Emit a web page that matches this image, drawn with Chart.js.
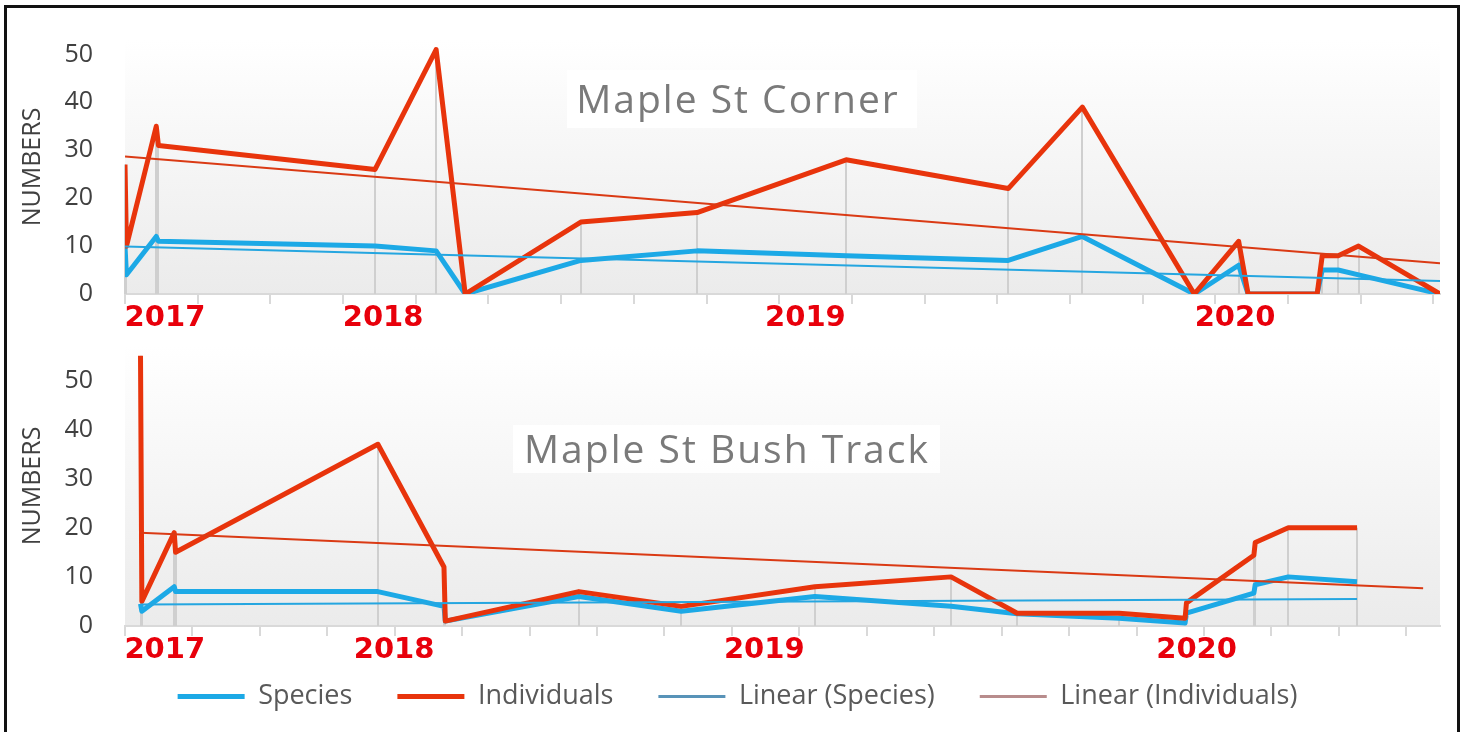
<!DOCTYPE html>
<html>
<head>
<meta charset="utf-8">
<script src="https://cdn.jsdelivr.net/npm/chart.js@4.4.1/dist/chart.umd.min.js"></script>
<style>
  html, body { margin: 0; padding: 0; background: #ffffff; width: 1466px; height: 732px; overflow: hidden; }
  #frame { position: absolute; left: 4px; top: 5px; width: 1450px; height: 800px; border: 3px solid #111111; }
  #c1 { position: absolute; left: 0; top: 0; }
  #c2 { position: absolute; left: 0; top: 325px; }
</style>
</head>
<body>
<div id="frame"></div>
<canvas id="c1" width="1466" height="335"></canvas>
<canvas id="c2" width="1466" height="395"></canvas>
<script>
// ---------- DATA (x = survey period on the time axis, one unit per axis tick) ----------
const seriesNames = ['Species', 'Individuals', 'Linear (Species)', 'Linear (Individuals)'];
const yearLabels = ['2017', '2018', '2019', '2020'];

// Maple St Corner
const cornerX = [0, 0.02, 0.43, 0.46, 3.44, 4.28, 4.68, 6.27, 7.87, 9.92, 12.15, 13.17, 14.71, 15.32, 15.45, 16.40, 16.47, 16.69, 16.97, 18.09];
const cornerSpecies = [10, 4, 12, 11, 10, 9, 0, 7, 9, 8, 7, 12, 0, 6, 0, 0, 5, 5, 4, 0];
const cornerIndividuals = [27, 10, 35, 31, 26, 51, 0, 15, 17, 28, 22, 39, 0, 11, 0, 0, 8, 8, 10, 0];
const cornerSpeciesTrendX = [0, 18.09];
const cornerSpeciesTrend = [9.9, 2.7];
const cornerIndividualsTrendX = [0, 18.09];
const cornerIndividualsTrend = [28.7, 6.4];
const cornerYearTicks = [0.55, 3.55, 9.36, 15.27];

// Maple St Bush Track
const bushX = [0.23, 0.25, 0.73, 0.75, 3.75, 4.73, 4.75, 6.73, 8.25, 10.23, 12.25, 13.23, 14.74, 15.72, 15.74, 16.74, 16.76, 17.25, 18.27];
const bushSpecies = [4.5, 3, 8, 7, 7, 4, 1, 6, 3, 6, 4, 2.5, 1.6, 0.6, 2.6, 6.7, 8.4, 10, 9];
const bushIndividuals = [55, 5, 19, 15, 37, 12, 1, 7, 4, 8, 10, 2.6, 2.6, 1.6, 4.7, 14.4, 17, 20, 20];
const bushSpeciesTrendX = [0.23, 18.27];
const bushSpeciesTrend = [4.4, 5.5];
const bushIndividualsTrendX = [0.23, 19.25];
const bushIndividualsTrend = [19, 7.7];
const bushYearTicks = [0.59, 3.99, 9.48, 15.89];

// ---------- STYLE ----------
const COL_SPECIES = '#1CA9E6';
const COL_INDIV = '#E8340C';
const COL_SP_TREND = '#25A6E0';
const COL_IND_TREND = '#DA3A14';
const legendColors = [COL_SPECIES, COL_INDIV, '#5893B8', '#B88C8C'];
const legendWidths = [5, 5, 3, 3];

Chart.defaults.font.family = "'Open Sans', sans-serif";

const pts = (xs, ys) => xs.map((x, i) => ({ x: x, y: ys[i] }));

const bgPlugin = {
  id: 'plotBg',
  beforeDraw(chart) {
    const { ctx, chartArea: a } = chart;
    const g = ctx.createLinearGradient(0, a.top, 0, a.bottom);
    g.addColorStop(0, '#ffffff');
    g.addColorStop(1, '#ebebeb');
    ctx.save();
    ctx.fillStyle = g;
    ctx.fillRect(a.left, a.top, a.right - a.left, a.bottom - a.top);
    ctx.restore();
  }
};

const dropLinePlugin = {
  id: 'dropLines',
  beforeDatasetsDraw(chart) {
    const { ctx } = chart;
    const xs = chart.scales.x, ys = chart.scales.y;
    const a = chart.data.datasets[0].data, b = chart.data.datasets[1].data;
    ctx.save();
    ctx.strokeStyle = '#cfcfcf';
    ctx.lineWidth = 2;
    a.forEach((p, i) => {
      const top = Math.max(p.y, b[i].y);
      const px = Math.round(xs.getPixelForValue(p.x));
      ctx.beginPath();
      ctx.moveTo(px, ys.getPixelForValue(top));
      ctx.lineTo(px, ys.getPixelForValue(0));
      ctx.stroke();
    });
    ctx.restore();
  }
};

const titlePlugin = {
  id: 'insetTitle',
  beforeDatasetsDraw(chart, args, o) {
    const { ctx } = chart;
    ctx.save();
    ctx.fillStyle = 'rgba(255,255,255,0.9)';
    ctx.fillRect(o.box[0], o.box[1], o.box[2], o.box[3]);
    ctx.fillStyle = '#7a7a7a';
    ctx.font = "39px 'Open Sans'";
    try { ctx.letterSpacing = '2px'; } catch (e) {}
    ctx.textAlign = 'center';
    ctx.textBaseline = 'alphabetic';
    ctx.fillText(o.text, o.x, o.y);
    ctx.restore();
  }
};

function makeChart(canvas, d) {
  return new Chart(canvas, {
    type: 'line',
    data: {
      datasets: [
        { label: seriesNames[0], data: pts(d.x, d.species), borderColor: COL_SPECIES, borderWidth: 5, order: 4 },
        { label: seriesNames[1], data: pts(d.x, d.individuals), borderColor: COL_INDIV, borderWidth: 5, order: 3 },
        { label: seriesNames[2], data: pts(d.spTrendX, d.spTrend), borderColor: COL_SP_TREND, borderWidth: 2, order: 2 },
        { label: seriesNames[3], data: pts(d.indTrendX, d.indTrend), borderColor: COL_IND_TREND, borderWidth: 2, order: 1 }
      ]
    },
    options: {
      responsive: false,
      animation: false,
      devicePixelRatio: 1,
      events: [],
      layout: { padding: { top: d.padTop, right: 26, left: d.padLeft, bottom: 0 } },
      elements: {
        point: { radius: 0 },
        line: { tension: 0, borderJoinStyle: 'round', fill: false }
      },
      scales: {
        x: {
          type: 'linear', position: 'bottom', weight: 0,
          min: 0, max: d.xMax,
          ticks: { display: false, stepSize: 1, includeBounds: false },
          grid: { display: true, drawOnChartArea: false, drawTicks: true, tickLength: 10, color: '#d9d9d9', lineWidth: 2 },
          border: { display: true, color: '#d9d9d9', width: 2 },
          afterFit(s) { s.height = d.tickAxisH; }
        },
        years: {
          type: 'linear', axis: 'x', position: 'bottom', weight: 1,
          min: 0, max: d.xMax,
          grid: { display: false, drawTicks: false },
          border: { display: false },
          afterBuildTicks(s) { s.ticks = d.yearTicks.map(v => ({ value: v })); },
          ticks: {
            autoSkip: false, maxRotation: 0, minRotation: 0,
            mirror: d.yearMirror,
            padding: d.yearPad,
            color: '#E8000B',
            font: { family: "'DejaVu Sans'", size: 29, weight: 'bold', lineHeight: 1 },
            callback: (v, i) => yearLabels[i]
          },
          afterFit(s) { s.height = d.yearAxisH; }
        },
        y: {
          type: 'linear', position: 'left',
          min: 0, max: d.yMax,
          ticks: { stepSize: 10, includeBounds: false, padding: 0, color: '#404040', font: { size: 25 } },
          grid: { display: false, drawTicks: true, tickLength: 32 },
          border: { display: false },
          title: { display: true, text: 'NUMBERS', color: '#404040', font: { size: 25 }, padding: { top: d.yTitlePad, bottom: 0 } },
          afterFit(s) { s.width = 125 - d.padLeft; }
        }
      },
      plugins: {
        tooltip: { enabled: false },
        insetTitle: d.title,
        legend: {
          display: d.showLegend,
          position: 'bottom',
          labels: {
            usePointStyle: true,
            pointStyleWidth: 67,
            padding: 45,
            color: '#595959',
            font: { size: 27 },
            generateLabels: (chart) => chart.data.datasets.map((ds, i) => ({
              text: ds.label,
              fillStyle: legendColors[i],
              strokeStyle: legendColors[i],
              lineWidth: legendWidths[i],
              pointStyle: 'line',
              hidden: false,
              datasetIndex: i,
              fontColor: '#595959'
            }))
          }
        }
      }
    },
    plugins: [bgPlugin, dropLinePlugin, titlePlugin]
  });
}

makeChart(document.getElementById('c1'), {
  x: cornerX, species: cornerSpecies, individuals: cornerIndividuals,
  spTrendX: cornerSpeciesTrendX, spTrend: cornerSpeciesTrend,
  indTrendX: cornerIndividualsTrendX, indTrend: cornerIndividualsTrend,
  yearTicks: cornerYearTicks, xMax: 18.09, yMax: 53,
  padTop: 40, padLeft: 0, yTitlePad: 18,
  tickAxisH: 10, yearAxisH: 31, yearPad: 0, yearMirror: false, showLegend: false,
  title: { text: 'Maple St Corner', x: 738, y: 113, box: [567, 70, 350, 58] }
});

makeChart(document.getElementById('c2'), {
  x: bushX, species: bushSpecies, individuals: bushIndividuals,
  spTrendX: bushSpeciesTrendX, spTrend: bushSpeciesTrend,
  indTrendX: bushIndividualsTrendX, indTrend: bushIndividualsTrend,
  yearTicks: bushYearTicks, xMax: 19.5, yMax: 57,
  padTop: 21, padLeft: 35, yTitlePad: -17,
  tickAxisH: 12, yearAxisH: 0, yearPad: -26.5, yearMirror: true, showLegend: true,
  title: { text: 'Maple St Bush Track', x: 727, y: 138, box: [513, 100, 427, 48] }
});
</script>
</body>
</html>
